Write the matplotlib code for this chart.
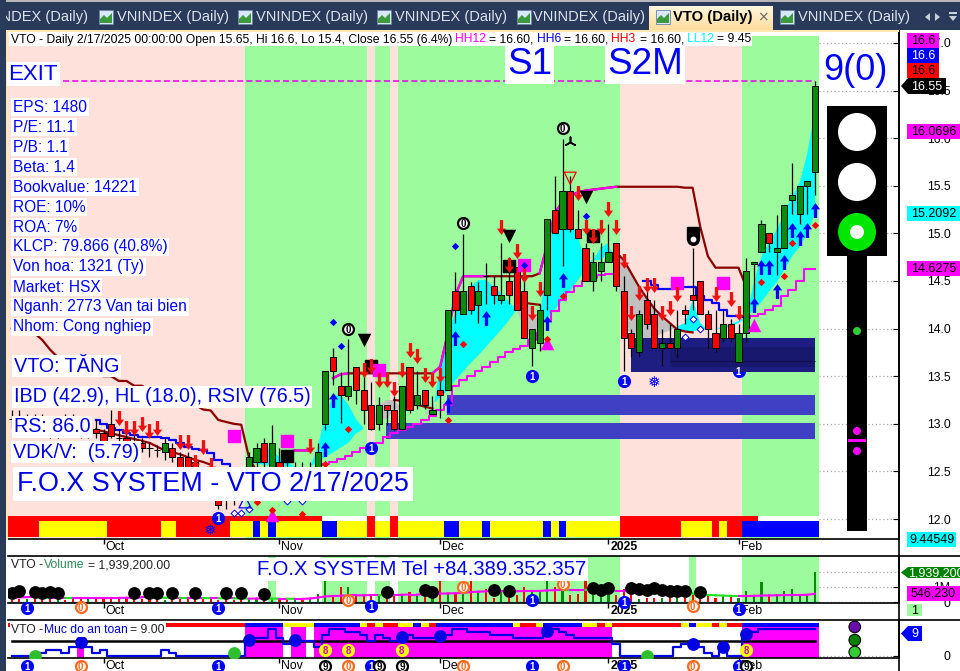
#!/usr/bin/env python3
"""VTO daily chart with the F.O.X SYSTEM panels, volume and safety level"""
import numpy as np
import matplotlib
matplotlib.use('Agg')
import matplotlib.pyplot as plt
from matplotlib.patches import Rectangle, Circle, Polygon
from matplotlib.path import Path

plt.rcParams['font.family'] = ['Liberation Sans', 'DejaVu Sans']

nan = float('nan')

opens = [13.05, 13.05, 13.00, 13.05, 13.00, 12.95, 12.95, 13.00, 13.00, 12.95,
         12.90, 12.95, 12.90, 13.00, 12.85, 12.85, 12.80, 12.80, 12.75, 12.72,
         12.70, 12.75, 12.65, 12.65, 12.60, 12.50, 12.40, 12.20, 12.20, 12.25,
         12.30, 12.55, 12.60, 12.80, 12.55, 12.60, 12.55, 12.50, 12.55, 12.50,
         12.55, 13.00, 13.70, 13.40, 13.29, 13.60, 13.35, 13.20, 13.00, 13.20,
         13.15, 12.95, 13.60, 13.20, 13.35, 13.10, 13.35, 13.35, 14.40, 14.15,
         14.45, 14.25, 14.55, 14.45, 14.30, 14.50, 14.65, 14.40, 13.80, 13.85,
         14.35, 15.25, 15.05, 15.45, 15.05, 14.85, 14.50, 14.60, 14.70, 14.90,
         14.40, 13.95, 13.75, 14.30, 14.15, 13.80, 13.85, 13.80, 14.20, 14.35,
         14.50, 14.15, 13.95, 13.90, 14.05, 13.65, 13.95, 14.68, 14.80, 15.00,
         14.80, 14.85, 15.35, 15.20, 15.50, 15.65]
highs = [13.15, 13.15, 13.10, 13.10, 13.10, 13.05, 13.05, 13.10, 13.10, 13.05,
         13.00, 13.05, 12.95, 13.14, 12.95, 12.90, 12.90, 12.85, 12.80, 12.78,
         12.85, 12.80, 12.70, 12.70, 12.65, 12.55, 12.45, 12.30, 12.25, 12.30,
         12.35, 12.70, 12.80, 12.85, 12.99, 12.75, 12.60, 12.60, 12.60, 12.60,
         12.80, 13.55, 13.80, 13.54, 13.89, 13.60, 13.53, 13.44, 13.28, 13.20,
         13.29, 13.40, 13.60, 13.55, 13.35, 13.29, 13.53, 14.20, 14.59, 14.99,
         14.49, 14.49, 14.69, 14.55, 14.90, 14.75, 14.65, 14.59, 14.00, 14.26,
         15.15, 15.60, 15.99, 15.60, 15.25, 14.90, 14.80, 14.90, 15.10, 14.90,
         14.55, 14.00, 14.20, 14.40, 14.30, 14.00, 14.05, 14.20, 14.25, 14.85,
         14.50, 14.20, 14.20, 14.20, 14.10, 14.05, 14.74, 14.70, 15.14, 15.00,
         15.19, 15.30, 15.74, 15.50, 15.55, 16.60]
lows = [12.95, 12.95, 12.90, 12.95, 12.90, 12.85, 12.85, 12.95, 12.90, 12.85,
        12.85, 12.85, 12.75, 12.85, 12.75, 12.75, 12.70, 12.70, 12.65, 12.65,
        12.62, 12.60, 12.50, 12.50, 12.45, 12.35, 12.25, 12.10, 12.10, 12.15,
        12.20, 12.40, 12.50, 12.50, 12.50, 12.50, 12.45, 12.40, 12.45, 12.40,
        12.45, 12.93, 13.41, 13.01, 13.25, 13.21, 13.00, 12.93, 12.93, 12.99,
        12.93, 12.93, 13.11, 13.16, 13.16, 13.10, 13.06, 13.35, 14.06, 14.15,
        14.15, 14.06, 14.26, 14.26, 14.26, 14.26, 14.20, 13.90, 13.61, 13.76,
        14.20, 15.00, 14.66, 15.01, 14.95, 14.50, 14.40, 14.50, 14.70, 14.40,
        13.55, 13.70, 13.70, 14.00, 13.80, 13.61, 13.80, 13.70, 14.05, 14.20,
        14.15, 13.80, 13.75, 13.86, 13.86, 13.65, 13.86, 14.30, 14.80, 14.80,
        14.56, 14.85, 15.20, 15.10, 15.20, 15.40]
closes = [13.05, 13.00, 13.05, 13.00, 12.95, 12.90, 13.00, 13.00, 12.95, 12.90,
          12.95, 12.90, 12.80, 12.87, 12.85, 12.80, 12.80, 12.75, 12.75, 12.72,
          12.80, 12.65, 12.55, 12.55, 12.50, 12.40, 12.30, 12.15, 12.20, 12.25,
          12.30, 12.65, 12.75, 12.60, 12.80, 12.55, 12.55, 12.55, 12.50, 12.55,
          12.70, 13.55, 13.55, 13.30, 13.40, 13.35, 13.15, 12.95, 13.20, 13.15,
          12.95, 13.40, 13.15, 13.30, 13.20, 13.15, 13.30, 14.20, 14.20, 14.40,
          14.20, 14.40, 14.55, 14.35, 14.35, 14.35, 14.20, 13.90, 14.00, 14.20,
          15.15, 15.00, 15.45, 15.05, 14.95, 14.50, 14.70, 14.70, 14.80, 14.45,
          13.90, 13.80, 14.15, 14.05, 13.80, 13.85, 13.80, 14.00, 14.15, 14.30,
          14.15, 14.00, 13.80, 14.05, 13.90, 13.95, 14.60, 14.70, 15.10, 14.90,
          14.85, 15.30, 15.40, 15.50, 15.55, 16.55]
volumes = [.15, .2, .2, .2, .25, .25, .2, .15, .2, .2, .25, .2, .2, .2, .25, .25,
           .25, .2, .25, .2, .15, .2, .2, .2, .2, .2, .25, .15, .2, .15, .2, .15,
           .2, .25, .2, .15, .15, .2, .15, .25, .55, 1.39, .5, .95, .95, .55, .45,
           .5, .5, .35, .55, .55, .65, .4, .5, .55, 1.39, .6, .6, .65, 1.35, .7,
           .85, .3, .75, .3, .5, .95, .75, .65, 1.39, .95, .95, .5, .55, 1.39, .45,
           .45, .45, .5, .85, .55, .2, .3, .25, .25, .25, .25, .3, .5, .4, .4, .25,
           .4, .4, .3, .75, .5, 1.28, .45, .55, .75, .85, .45, .5, 1.94]
volume_ma = [.30, .32, .33, .33, .30, .28, .28, .28, .27, .27, .27, .28, .28, .28,
             .28, .29, .30, .31, .31, .30, .29, .28, .28, .27, .27, .27, .26, .26,
             .25, .25, .24, .23, .24, .25, .24, .23, .23, .22, .22, .24, .30, .38,
             .40, .42, .44, .44, .45, .46, .46, .45, .46, .48, .50, .50, .51, .52,
             .56, .57, .58, .60, .66, .68, .70, .70, .71, .71, .71, .72, .73, .73,
             .76, .78, .80, .78, .78, .80, .78, .76, .74, .72, .72, .72, .70, .68,
             .66, .64, .62, .60, .58, .56, .50, .47, .45, .43, .41, .40, .40, .41,
             .43, .44, .45, .46, .47, .47, .48, .55]
safety_level = [0, 0, 0, 0, 1, 2, 2, 1, 3, 3, 3, 1, 2, 0, 0, 0, 0, 0, 0, 0, 2, 1, 0, 0,
                0, 0, 0, 0, 0, 0, 0, 5, 6, 6, 9, 6, 4, 4, 5, 5, 3, 7, 9, 9, 8, 8, 7, 5,
                7, 6, 5, 7, 7, 6, 6, 6, 7, 7, 9, 9, 8, 8, 8, 7, 7, 7, 6, 6, 6, 6, 8, 9,
                8, 7, 6, 6, 6, 6, 6, 4, 0, 0, 0, 0, 0, 0, 0, 3, 4, 4, 3, 1, 0, 3, 0, 0,
                7, 8, 9, 9, 9, 9, 9, 9, 9, 9]

# fast and slow band, cyan when fast is above, gray when below (from bar 31)
band_fast = [12.60, 12.72, 12.75, 12.72, 12.65, 12.60, 12.55, 12.55, 12.55, 12.75,
             13.10, 13.30, 13.30, 13.20, 13.05, 12.95, 13.00, 13.05, 13.05, 13.15,
             13.15, 13.15, 13.15, 13.10, 13.10, 13.60, 13.98, 14.16, 14.34, 14.44,
             14.51, 14.51, 14.44, 14.37, 14.28, 14.20, 13.99, 13.88, 14.02, 14.90,
             15.07, 15.25, 15.14, 14.97, 14.69, 14.72, 14.85, 14.90, 14.65, 14.02,
             13.95, 13.88, 13.88, 13.91, 13.95, 13.98, 14.02, 14.06, 14.30, 14.06,
             13.98, 14.00, 14.02, 14.05, 14.08, 14.13, 14.48, 14.76, 14.90, 15.04,
             15.21, 15.39, 15.53, 15.84, 16.30]
band_slow = [12.60, 12.58, 12.57, 12.56, 12.55, 12.55, 12.55, 12.55, 12.55, 12.60,
             12.65, 12.70, 12.75, 12.80, 12.90, 12.95, 13.00, 13.20, 13.25, 13.25,
             13.15, 13.15, 13.15, 13.10, 13.20, 13.28, 13.35, 13.46, 13.55, 13.64,
             13.72, 13.81, 13.90, 13.99, 14.09, 14.20, 14.25, 14.23, 14.05, 14.11,
             14.20, 14.30, 14.40, 14.51, 14.62, 14.72, 14.72, 14.80, 14.79, 14.72,
             14.58, 14.44, 14.32, 14.21, 14.13, 14.06, 13.98, 13.97, 13.97, 13.99,
             14.00, 14.00, 14.00, 14.02, 14.06, 14.11, 14.20, 14.28, 14.39, 14.49,
             14.62, 14.76, 14.86, 15.00, 15.21]

# upper stop line, magenta on the runs below and dark red elsewhere (bars 0-96)
stop_line = [14.00, 14.00, 13.98, 13.95, 13.88, 13.78, 13.70, 13.70, 13.65, 13.60,
             13.60, 13.55, 13.50, 13.50, 13.45, 13.45, 13.40, 13.40, 13.35, 13.35,
             13.30, 13.25, 13.25, 13.20, 13.20, 13.15, 13.14, 13.04, 13.02, 13.00,
             12.99, 12.65, 12.50, 12.50, 12.50, 12.50, 12.70, 12.72, 12.72, 12.72,
             nan, nan, 13.48, 13.52, 13.53, 13.53, 13.53, 13.53, 13.53, 13.53, 13.53,
             13.53, 13.53, 13.53, 13.53, 13.53, 13.60, 13.95, 14.35, 14.55, 14.55,
             14.55, 14.55, 14.55, 14.55, 14.55, 14.55, 14.55, 14.55, 14.58, 14.88,
             15.22, 15.33, 15.40, 15.43, 15.45, 15.46, 15.47, 15.48, 15.49, 15.49,
             15.49, 15.49, 15.49, 15.49, 15.49, 15.49, 15.49, 15.48, 15.48, 15.07,
             14.76, 14.64, 14.64, 14.64, 14.64, 14.44]
stop_up_runs = [(36, 39), (42, 44), (55, 62), (69, 79)]

trail_idx = [11, 12, 13, 14, 15, 16, 17, 18, 19, 20, 21, 22, 23, 24, 25, 26, nan,
             50, 51, 52, 53, 54, 55, nan, 66, 67, 68, 69, nan,
             79, 80, 81, 82, 83, 84, 85, 86, 87, 88, 89]
trail_val = [12.94, 12.92, 12.90, 12.88, 12.86, 12.84, 12.82, 12.80, 12.76, 12.72,
             12.70, 12.68, 12.65, 12.62, 12.60, 12.57, nan,
             13.25, 13.24, 13.22, 13.20, 13.18, 13.16, nan, 14.28, 14.27, 14.26, 14.25, nan,
             14.80, 14.72, 14.58, 14.44, 14.32, 14.21, 14.13, 14.06, 13.99, 13.97, 13.96]
blue_idx = [11, 12, 13, 14, 15, 16, 17, 18, 19, 20, 21, 22, 23, 24, 25, 26, 27, 28,
            29, nan, 82, 83, 84, 85, 86, 87, 88, 89, 90, 91, 92, 93, 94, 95, 96]
blue_val = [13.04, 13.00, 12.96, 12.93, 12.90, 12.88, 12.86, 12.86, 12.86, 12.85,
            12.83, 12.80, 12.76, 12.74, 12.72, 12.69, 12.62, 12.58, 12.55, nan,
            14.50, 14.50, 14.46, 14.42, 14.42, 14.44, 14.44, 14.44, 14.34, 14.30,
            14.27, 14.20, 14.13, 14.13, 14.12]
low_idx = [40, 41, 42, 43, 44, 45, 46, 47, 48, 49, 50, 51, 52, 53, 54, 55, 56, 57,
           58, 59, 60, 61, 62, 63, 64, 65, 66, 67, 68, 69, 70, 71, 72, 73, 74, 75,
           76, 77, 78, 79, nan, 96, 97, 98, 99, 100, 101, 102, 103, 104, 105]
low_val = [12.57, 12.58, 12.60, 12.63, 12.66, 12.70, 12.75, 12.78, 12.80, 12.86,
           12.90, 12.93, 12.97, 13.00, 13.04, 13.08, 13.14, 13.20, 13.40, 13.46,
           13.50, 13.55, 13.60, 13.65, 13.70, 13.75, 13.79, 13.82, 13.88, 13.95,
           14.08, 14.18, 14.30, 14.38, 14.45, 14.50, 14.53, 14.56, 14.57, 14.57, nan,
           14.11, 14.13, 14.15, 14.20, 14.24, 14.34, 14.41, 14.50, 14.63, 14.63]

# signals on the price panel: bar index and price
sell_idx = [14, 15, 16, 17, 18, 19, 22, 23, 24, 25, 26, 39, 46, 47, 48, 49, 50, 51,
            52, 53, 54, 55, 56, 64, 65, 66, 67, 68, 69, 74, 75, 76, 77, 78, 79, 80,
            81, 82, 83, 84, 85, 86, 87, 92, 94, 95]
sell_val = [13.06, 12.96, 12.96, 13.00, 12.92, 12.96, 12.81, 12.81, 12.60, 12.76,
            12.57, 12.77, 13.57, 13.61, 13.46, 13.46, 13.37, 13.57, 13.77, 13.71,
            13.51, 13.46, 13.51, 15.07, 14.67, 14.82, 14.56, 14.16, 14.42, 15.42,
            15.07, 14.97, 15.07, 15.26, 15.07, 14.71, 14.16, 14.37, 14.46, 14.46,
            14.16, 14.22, 14.36, 14.36, 14.31, 14.16]
buy_idx = [41, 42, 57, 58, 62, 70, 72, 97, 98, 99, 100, 101, 102, 103, 104, 105]
buy_val = [12.74, 13.25, 13.20, 13.90, 14.11, 14.06, 14.51, 14.25, 14.65, 14.65,
           14.40, 14.70, 15.04, 14.95, 15.04, 15.25]
black_sq_idx = [36, 47, 65, 76]
black_sq_val = [12.66, 13.61, 14.66, 14.97]
pink_sq_idx = [29, 36, 48, 67, 87, 93]
pink_sq_val = [12.87, 12.82, 13.57, 14.67, 14.48, 14.48]
black_tri_idx = [46, 65, 75]
black_tri_val = [13.88, 14.97, 15.38]
pink_tri_idx = [34, 70, 97]
pink_tri_val = [12.04, 13.85, 14.04]
blue_dot_idx = [42, 43, 58, 67, 75]
blue_dot_val = [14.07, 13.82, 14.87, 14.67, 15.18]
red_dot_idx = [32, 34, 38, 41, 44, 57, 59, 70, 72, 98, 101, 102, 105]
red_dot_val = [12.18, 12.09, 12.05, 12.58, 12.95, 13.04, 13.84, 13.89, 14.34, 14.49,
               14.55, 14.90, 15.09]
open_dia_idx = [29, 30, 31, 36, 38, 88, 89, 90]
open_dia_val = [12.06, 12.06, 12.10, 12.19, 12.19, 13.91, 14.10, 14.00]
zero_idx = [44, 59, 72]
zero_val = [14.00, 15.11, 16.11]
one_idx = [27, 47, 68, 80]
one_val = [12.01, 12.75, 13.50, 13.45]

# background zones and support blocks
green_zones = [(30.5, 46.5), (47.5, 49.5), (50.5, 79.5), (95.5, 105.5)]
support_blocks = [(48.9, 105.0, 12.84, 13.01, '#4040C4'), (56.9, 105.0, 13.09, 13.30, '#4040C4'),
                  (81.0, 105.0, 13.54, 13.90, '#1E1E82'), (86.0, 105.0, 13.60, 13.81, '#18186E')]
strip_runs = [4, 9, 7, 2, 7, 3, 1, 1, 1, 6, 2, 4, 1, 2, 1, 6, 2, 3, 1, 7, 1, 1, 1, 7, 8,
              4, 1, 1, 2, 10]
strip_codes = 'rgrgrgbgbgbgrgrgbgbgbgbgrgrgrb'.replace('g', 'y')
top_red_runs = [(0, 40), (47, 47), (50, 50), (80, 97)]

vol_zones = [(33.5, 34.5), (40.5, 46.5), (47.5, 49.5), (50.5, 79.5), (88.5, 89.5), (95.5, 105.5)]
vol_dot_idx = [0, 1, 3, 4, 5, 6, 16, 18, 19, 21, 24, 28, 30, 33, 49, 54, 55, 63, 65,
               76, 77, 78, 81, 82, 83, 84, 85, 86, 87, 88, 90]
vol_dot_val = [.58, .73, .64, .58, .64, .58, .58, .58, .58, .58, .58, .58, .58, .52,
               .64, .79, .64, .77, .73, .90, .79, .94, .90, .83, .79, .90, .79, .73,
               .73, .73, .64]
vol_one_idx = [2, 27, 47, 68, 80, 95]
vol_one_val = [-.38, -.38, -.23, .15, .04, -.45]
vol_zero_idx = [9, 44, 59, 72, 89]
vol_zero_val = [-.28, .15, 1.0, 1.2, -.26]

safety_zones = [(30.5, 35.5), (36.5, 38.5), (39.5, 78.5), (95.5, 105.5)]
safety_runs = [31, 5, 4, 6, 1, 1, 1, 2, 2, 1, 1, 1, 10, 1, 2, 1, 5, 2, 1, 1, 9, 1, 1, 2,
               1, 1, 2, 10]
safety_codes = 'rbybyryrybyrbyrybyryrybyryrb'
safe_blue_idx = [9, 31, 37, 51, 56, 70, 89, 93, 96]
safe_blue_val = [4.8, 5.5, 5.5, 6.4, 6.7, 8.4, 3.9, 3.1, 7.3]
safe_green_idx = [3, 29, 83]
safe_green_val = [0, 1, 0]
safe_eight_idx = [41, 44, 51, 96]
safe_eight_val = [2, 2, 2, 2]
under_idx = [2, 9, 27, 41, 44, 47, 48, 51, 59, 68, 72, 80, 89, 95, 96]
under_text = ['1', '0', '1', '9', '0', '1', '9', '9', '0', '1', '0', '1', '0', '1', '9']

month_idx = [12, 35, 56, 78, 95]
month_labels = ['Oct', 'Nov', 'Dec', '2025', 'Feb']
price_ticks = [12.0, 12.5, 13.0, 13.5, 14.0, 14.5, 15.0, 15.5, 16.0, 16.5, 17.0]

stats = ['EPS: 1480', 'P/E: 11.1', 'P/B: 1.1', 'Beta: 1.4', 'Bookvalue: 14221',
         'ROE: 10%', 'ROA: 7%', 'KLCP: 79.866 (40.8%)', 'Von hoa: 1321 (Ty)',
         'Market: HSX', 'Nganh: 2773 Van tai bien', 'Nhom: Cong nghiep']

W, H = 960, 671
BAR_PX = 7.65
PINK = '#FFE1DC'
GREEN = '#9CFB9C'
COLORS = {'r': '#FF0000', 'y': '#FFFF00', 'b': '#0000FF'}
n = len(closes)
x = np.arange(n)
XLIM = (105 + (8 - 815) / BAR_PX, 105 + (899 - 815) / BAR_PX)


def panel(top, bottom):
    a = fig.add_axes([8 / W, 1 - bottom / H, 891 / W, (bottom - top) / H])
    a.set_xlim(*XLIM)
    a.yaxis.tick_right()
    a.spines['left'].set_visible(False)
    for s in a.spines.values():
        s.set_linewidth(1.2)
    a.set_xticks(month_idx)
    a.set_xticklabels(month_labels, ha='left', fontsize=8.8)
    a.tick_params(axis='x', length=3.6, pad=-2.4, width=1)
    for lab in a.get_xticklabels():
        lab.set_transform(lab.get_transform() + matplotlib.transforms.ScaledTranslation(2 / 100, 0, fig.dpi_scale_trans))
        if lab.get_text() == '2025':
            lab.set_fontweight('bold')
    a.tick_params(axis='y', direction='in', length=4, width=0.8, labelsize=8.8, pad=37)
    return a


def set_right_labels(a):
    for lab in a.get_yticklabels():
        lab.set_ha('right')


def dotted(a, vals):
    a.hlines(vals, 105.5, XLIM[1], color='#AAAAAA', lw=0.9, ls=(0, (1, 2)), zorder=1)


def badge(a, bx, by, txt, face, edge, tc, size=62, zorder=12):
    a.scatter(bx, by, s=size, c=face, edgecolors=edge, linewidths=1.6, clip_on=False, zorder=zorder)
    a.text(bx, by, txt, color=tc, fontsize=7, fontweight='bold', ha='center', va='center_baseline',
           clip_on=False, zorder=zorder + 1)


fig = plt.figure(figsize=(W / 100, H / 100), dpi=100, facecolor='white')

# price panel
ax = panel(30, 539)
ax.spines['top'].set_visible(False)
ax.set_ylim(17 - (539 - 43) / 95.2, 17 + 13 / 95.2)
zone_top = (17 - (36 - 43) / 95.2 - ax.get_ylim()[0]) / np.ptp(ax.get_ylim())
ax.axvspan(XLIM[0], 105.5, ymin=0, ymax=zone_top, color=PINK, lw=0, zorder=0)
for a0, a1 in green_zones:
    ax.axvspan(a0, a1, ymin=0, ymax=zone_top, color=GREEN, lw=0, zorder=0.1)
dotted(ax, price_ticks)
ax.set_yticks(price_ticks)
ax.set_yticklabels(['%.1f' % t for t in price_ticks])
set_right_labels(ax)

band_x = x[31:]
fast = np.array(band_fast)
slow = np.array(band_slow)
ax.fill_between(band_x, slow, fast, where=fast >= slow, interpolate=True, color='#00FFFF', lw=0, zorder=1)
ax.fill_between(band_x, slow, fast, where=fast <= slow, interpolate=True, color='#C0C0C0', lw=0, zorder=1)

badge(ax, 95, 13.55, '1', '#0000FF', '#0000FF', 'white', zorder=1.2)
for x0, x1, y0, y1, col in support_blocks:
    ax.add_patch(Rectangle((x0, y0), x1 - x0, y1 - y0, color=col, lw=0, zorder=2))
ax.hlines(13.66, 86, 105, color='#101050', lw=0.8, zorder=2)

ax.axhline(16.6, xmax=(105 - XLIM[0]) / (XLIM[1] - XLIM[0]), color='#E800E8', lw=1.1, ls=(0, (4, 2)), zorder=2)

stop = np.array(stop_line)
ax.plot(x[:len(stop)], stop, color='#8B0000', lw=1.6, zorder=3)
for r0, r1 in stop_up_runs:
    ax.plot(x[r0:r1 + 1], stop[r0:r1 + 1], color='#FF00FF', lw=1.6, zorder=3.1)
ax.plot(trail_idx, trail_val, color='#8B0000', lw=1.6, zorder=3)
ax.plot(blue_idx, blue_val, color='#0000FF', lw=1.6, drawstyle='steps-mid', zorder=3)
ax.plot(low_idx, low_val, color='#FF00FF', lw=1.5, drawstyle='steps-mid', zorder=3)

# candles
o = np.array(opens)
c = np.array(closes)
body_col = ['#0C8A0C' if cc > oo else '#FF0000' for oo, cc in zip(o, c)]
ax.vlines(x, lows, highs, color='black', lw=0.9, zorder=4)
ax.bar(x, np.abs(c - o), bottom=np.minimum(o, c), width=0.8, color=body_col, edgecolor='black', linewidth=0.7, zorder=4.1)

# colour strip at the bottom of the panel
codes = np.repeat(list(strip_codes), strip_runs)
ax.bar(x, 11.98 - 11.81, bottom=11.81, width=1.0, color=[COLORS[k] for k in codes], lw=0, zorder=6)
top_cols = ['white'] * n
for r0, r1 in top_red_runs:
    for i in range(r0, r1 + 1):
        top_cols[i] = '#FF0000'
ax.bar(x, 12.03 - 11.98, bottom=11.98, width=1.0, color=top_cols, lw=0, zorder=6)

# signals
arrow_down = Path([(-.22, 1), (.22, 1), (.22, -.15), (.62, -.15), (0, -1), (-.62, -.15), (-.22, -.15), (-.22, 1)], closed=True)
arrow_up = Path([(-.22, -1), (.22, -1), (.22, .15), (.62, .15), (0, 1), (-.62, .15), (-.22, .15), (-.22, -1)], closed=True)
ax.scatter(black_sq_idx, black_sq_val, marker='s', s=72, c='black', zorder=7)
ax.scatter(pink_sq_idx, pink_sq_val, marker='s', s=72, c='#FF00FF', zorder=7)
ax.scatter(sell_idx, sell_val, marker=arrow_down, s=115, c='#F01010', lw=0, zorder=8)
ax.scatter(buy_idx, buy_val, marker=arrow_up, s=115, c='#0000FF', lw=0, zorder=8)
ax.scatter(black_tri_idx, black_tri_val, marker='v', s=95, c='black', lw=0, zorder=8)
ax.scatter(pink_tri_idx, pink_tri_val, marker='^', s=95, c='#FF00FF', lw=0, zorder=8)
ax.scatter(blue_dot_idx, blue_dot_val, marker='D', s=14, c='#0000FF', lw=0, zorder=9)
ax.scatter(red_dot_idx, red_dot_val, marker='D', s=14, c='#FF0000', lw=0, zorder=9)
ax.scatter(open_dia_idx, open_dia_val, marker='D', s=12, facecolors='white', edgecolors='#0000FF', linewidths=0.7, zorder=9)
ax.scatter(73, 15.58, marker='v', s=75, facecolors='none', edgecolors='#FF0000', linewidths=0.9, zorder=9)
ax.scatter(30.5, 12.18, marker='^', s=75, facecolors='none', edgecolors='#0000FF', linewidths=0.9, zorder=9)
ax.scatter(73, 15.96, marker=(3, 2, 0), s=60, c='black', linewidths=1.2, zorder=9)
for bx, by in zip(zero_idx, zero_val):
    badge(ax, bx, by, '0', 'white', 'black', 'black')
for bx, by in zip(one_idx, one_val):
    badge(ax, bx, by, '1', '#0000FF', '#0000FF', 'white')
for bx, by in [(84, 13.43), (26, 11.88)]:
    ax.text(bx, by, '\u2745', color='#0000FF', fontsize=11, family='DejaVu Sans', ha='center', va='center', zorder=12)
ax.scatter(89, 15.0, marker='s', s=75, c='black', zorder=9)
ax.scatter(89, 14.94, marker='o', s=70, c='black', zorder=9)
ax.scatter(89, 14.94, marker='o', s=10, c='white', zorder=9.5)

# volume panel
vax = panel(556, 603)
vax.set_ylim(-.045, 2.97)
for a0, a1 in vol_zones:
    vax.axvspan(a0, a1, color=GREEN, lw=0, zorder=0)
dotted(vax, [0, 1, 1.9392])
vax.set_yticks([0, 1])
vax.set_yticklabels(['0', '1M'])
set_right_labels(vax)
vax.bar(x, volumes, width=0.28, color=body_col, lw=0, zorder=2)
vol_ma = np.array(volume_ma)
for i in range(n - 1):
    col = '#FF00FF' if vol_ma[i + 1] >= vol_ma[i] else '#22E022'
    vax.plot(x[i:i + 2], vol_ma[i:i + 2], color=col, lw=1.5, zorder=3)
vax.hlines(0, -0.5, 105.5, color='#30C0C0', lw=1, zorder=1.5)
vax.scatter(vol_dot_idx, vol_dot_val, s=85, c='black', lw=0, zorder=5)
for bx, by in zip(vol_one_idx, vol_one_val):
    badge(vax, bx, by, '1', '#0000FF', '#0000FF', 'white')
for bx, by in zip(vol_zero_idx, vol_zero_val):
    badge(vax, bx, by, '0', 'white', '#FF6A20', '#FF6A20')

# safety panel
sax = panel(620, 658)
sax.set_ylim(-2 / 3, 12)
for a0, a1 in safety_zones:
    sax.axvspan(a0, a1, ymax=(9.7 + 2 / 3) / (12 + 2 / 3), color='#FF00FF', lw=0, zorder=0)
sax.bar(9, 3.2, bottom=-2 / 3, width=1, color='#FF00FF', lw=0, zorder=0)
dotted(sax, [0])
sax.set_yticks([0])
sax.set_yticklabels(['0'])
set_right_labels(sax)
safe_codes = np.repeat(list(safety_codes), safety_runs)
sax.bar(x, 1.4, bottom=9.7, width=1.0, color=[COLORS[k] for k in safe_codes], lw=0, zorder=2)
sax.plot([0, 105], [5, 5], color='black', lw=1.8, zorder=3)
sax.plot(x, safety_level, color='#0000E0', lw=1.6, drawstyle='steps-mid', zorder=4)
sax.scatter(safe_blue_idx, safe_blue_val, s=85, c='#0000E0', lw=0, zorder=5)
sax.scatter(safe_green_idx, safe_green_val, s=85, c='#2EBE2E', lw=0, zorder=5)
for bx, by in zip(safe_eight_idx, safe_eight_val):
    badge(sax, bx, by, '8', '#FFFF00', '#FFFF00', '#D000D0')
for bx, t in zip(under_idx, under_text):
    if t == '1':
        badge(sax, bx, -3.3, t, '#0000FF', '#0000FF', 'white')
    elif t == '0':
        badge(sax, bx, -3.3, t, 'white', '#FF6A20', '#FF6A20')
    else:
        badge(sax, bx, -3.3, t, 'white', 'black', 'black')
sax.scatter([110.2] * 3, [9.7, 5.3, 1.3], s=70, c=['#6A0DAD', '#008000', '#32CD32'], edgecolors='black', linewidths=0.8, zorder=5)

# everything around the panels, drawn in pixel coordinates
ui = fig.add_axes([0, 0, 1, 1], zorder=10)
ui.set_xlim(0, W)
ui.set_ylim(H, 0)
ui.axis('off')
ui.patch.set_alpha(0)

ui.add_patch(Rectangle((0, 0), W, 30, color='#2A3A5A', lw=0))
ui.add_patch(Rectangle((0, 0), W, 1.5, color='#B8B8B8', lw=0))
ui.add_patch(Rectangle((0, 0), 6, H, color='#2A3A5A', lw=0, zorder=3))
ui.add_patch(Rectangle((6, 30), 893, 2, color='#FFE8B0', lw=0))
ui.add_patch(Rectangle((6, 30), 2, 510, color='#FFE8B0', lw=0))
# panel frame runs on past the axes
ui.plot([899, 899], [30, 671], color='black', lw=1.2, zorder=0.5)
ui.plot([899, 960], [556, 556], color='black', lw=1.2, zorder=0.5)
ui.plot([899, 960], [620, 620], color='black', lw=1.2, zorder=0.5)
ui.set_xlim(0, W)
ui.set_ylim(H, 0)


def tab(text_x, icon_x=None, label='VNINDEX (Daily)', color='#DDE3EE', weight='normal'):
    if icon_x is not None:
        ui.add_patch(Rectangle((icon_x, 10), 14, 14, facecolor='#D8E8F8', edgecolor='#6A84A8', lw=0.6))
        ui.add_patch(Polygon([(icon_x + 1, 23), (icon_x + 1, 19), (icon_x + 5, 15), (icon_x + 8, 18), (icon_x + 13, 13), (icon_x + 13, 23)], color='#3C9A3C', lw=0))
    ui.text(text_x, 17.5, label, color=color, fontsize=10.5 if weight == 'normal' else 10.7, fontweight=weight, va='center', ha='left')


ui.text(88, 17.5, 'VNINDEX (Daily)', color='#DDE3EE', fontsize=10.5, va='center', ha='right', zorder=1)
for tx, ix in [(117, 99), (256, 238), (395, 377), (533, 517), (798, 780)]:
    tab(tx, ix)
ui.imshow(np.linspace(0, 1, 24)[:, None], extent=(649, 773, 30, 6), cmap=matplotlib.colors.LinearSegmentedColormap.from_list('t', ['#FFF6DC', '#FFDD9C']), aspect='auto', zorder=1)
ui.set_xlim(0, W)
ui.set_ylim(H, 0)
tab(673, 656, 'VTO (Daily)', 'black', 'bold')
ui.text(763, 17, '\u00d7', color='#666666', fontsize=10, ha='center', va='center', family='DejaVu Sans')
ui.add_patch(Polygon([(930, 13), (930, 21), (925, 17)], color='#C8D0DC', lw=0))
ui.add_patch(Polygon([(935, 13), (935, 21), (940, 17)], color='#C8D0DC', lw=0))
ui.add_patch(Rectangle((949, 12), 8, 1.5, color='#C8D0DC', lw=0))
ui.add_patch(Polygon([(949, 16), (957, 16), (953, 21)], color='#C8D0DC', lw=0))

# header line
ui.add_patch(Rectangle((9, 33), 743, 13, color='white', lw=0))
title_parts = [(11, 'VTO - Daily 2/17/2025 00:00:00 Open 15.65, Hi 16.6, Lo 15.4, Close 16.55 (6.4%)', 'black'),
               (455, 'HH12', '#FF00FF'), (489, '= 16.60,', 'black'), (537, 'HH6', '#0000FF'),
               (564, '= 16.60,', 'black'), (611, 'HH3', '#FF0000'), (640, '= 16.60,', 'black'),
               (687, 'LL12', '#00FFFF'), (717, '= 9.45', 'black')]
for tx, s, col in title_parts:
    ui.text(tx, 39.5, s, color=col, fontsize=8.7, va='center', ha='left')

BOX = dict(facecolor='white', edgecolor='none', pad=1.2)
ui.text(8.5, 74, 'EXIT', color='#0000FF', fontsize=16, va='center', bbox=BOX)
for i, s in enumerate(stats):
    ui.text(13, 107 + 20 * i, s, color='#0000FF', fontsize=11.2, va='center', bbox=BOX)
ui.text(507, 65, 'S1', color='#0000FF', fontsize=26.6, va='center', bbox=BOX)
ui.text(607, 65, 'S2M', color='#0000FF', fontsize=26.6, va='center', bbox=BOX)
ui.text(823, 71, '9(0)', color='#0000FF', fontsize=26, va='center', bbox=dict(facecolor='white', edgecolor='none', pad=0.5))
ui.text(14, 366, 'VTO: T\u0102NG', color='#0000E6', fontsize=14.2, va='center', bbox=BOX)
ui.text(14, 397, 'IBD (42.9), HL (18.0), RSIV (76.5)', color='#0000E6', fontsize=14.2, va='center', bbox=BOX)
ui.text(14, 427, 'RS: 86.0', color='#0000E6', fontsize=14.2, va='center', bbox=BOX)
ui.text(13, 452, 'VDK/V:  (5.79)', color='#0000E6', fontsize=14.2, va='center', bbox=BOX)
ui.text(17, 484, 'F.O.X SYSTEM - VTO 2/17/2025', color='#0000E6', fontsize=19.4, va='center',
        bbox=dict(facecolor='white', edgecolor='none', pad=3))
ui.text(257, 569.5, 'F.O.X SYSTEM Tel +84.389.352.357', color='#0000E6', fontsize=14.6, va='center', bbox=BOX)

for tx, s, col in [(11, 'VTO - ', '#222222'), (44, 'Volume', '#2E8B57'), (88, '= 1,939,200.00', '#222222')]:
    ui.text(tx, 565, s, color=col, fontsize=8.7, va='center')
ui.add_patch(Rectangle((10, 623), 156, 14, color='white', lw=0))
for tx, s, col in [(11, 'VTO - ', '#222222'), (44, 'Muc do an toan', '#0000E0'), (130, '= 9.00', '#222222')]:
    ui.text(tx, 630, s, color=col, fontsize=8.7, va='center')

# traffic light
ui.add_patch(Rectangle((847, 256), 20, 275, color='black', lw=0))
ui.add_patch(Rectangle((827, 106), 60, 150, color='black', lw=0))
ui.add_patch(Circle((857, 132), 19, color='white', lw=0))
ui.add_patch(Circle((857, 182), 19, color='white', lw=0))
ui.add_patch(Circle((857, 232), 19, color='#00E600', lw=0))
ui.add_patch(Circle((857, 232), 7, color='white', lw=0))
ui.add_patch(Circle((857, 331), 4, color='#32CD32', lw=0))
ui.add_patch(Circle((857, 431), 4, color='#FF00FF', lw=0))
ui.add_patch(Circle((857, 451), 4, color='#FF00FF', lw=0))
ui.add_patch(Rectangle((848, 438.5), 18, 3, color='#FF00FF', lw=0))


def value_box(y0, y1, s, face, tc, x0=907, x1=None):
    x1 = x1 if x1 is not None else 960
    ui.add_patch(Rectangle((x0, y0), x1 - x0, y1 - y0, color=face, lw=0))
    ui.text((x0 + x1) / 2, (y0 + y1) / 2 + 0.5, s, color=tc, fontsize=9, ha='center', va='center')


def value_flag(y0, y1, s, face, tc, x1):
    ym = (y0 + y1) / 2
    ui.add_patch(Polygon([(901, ym), (908, y0), (x1, y0), (x1, y1), (908, y1)], color=face, lw=0))
    ui.text(908 + (x1 - 908) / 2, ym + 0.5, s, color=tc, fontsize=9, ha='center', va='center')


value_box(33, 48, '16.6', '#FF00FF', 'black', x1=939)
value_box(48, 63, '16.6', '#0000FF', 'white', x1=939)
value_box(63, 78, '16.6', '#FF0000', 'black', x1=939)
value_flag(78, 94, '16.55', 'black', 'white', 946)
value_box(124, 139, '16.0696', '#FF00FF', 'black')
value_box(206, 221, '15.2092', '#00FFFF', 'black')
value_box(261, 276, '14.6275', '#FF00FF', 'black')
value_box(532, 547, '9.44549', '#00FFFF', 'black', x1=956)
value_flag(567, 578, '1,939,200', '#008000', 'white', 964)
value_box(586, 601, '546,230', '#FF00FF', 'black')
value_box(604, 616, '1', '#9CFB9C', 'black', x1=922)
value_flag(626, 641, '9', '#0000FF', 'white', 922)

fig.savefig('out.png', dpi=100)
